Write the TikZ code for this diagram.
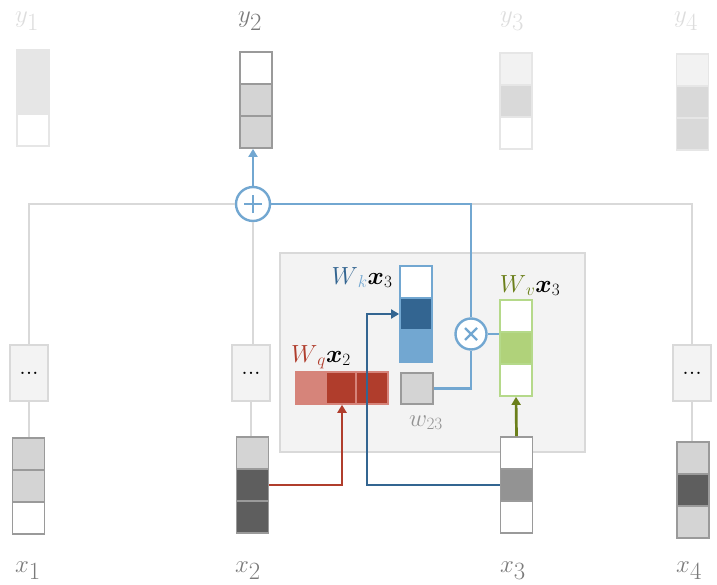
\documentclass[tikz,border=0pt]{standalone}
\usepackage{amsmath}
\usetikzlibrary{arrows.meta}
\definecolor{lgline}{HTML}{D9D9D9}
\definecolor{bgray}{HTML}{9A9A9A}
\definecolor{cgray}{HTML}{D4D4D4}
\definecolor{cdark}{HTML}{5E5E5E}
\definecolor{cmid}{HTML}{939393}
\definecolor{faint}{HTML}{E6E6E6}
\definecolor{vfaint}{HTML}{F2F2F2}
\definecolor{ygray}{HTML}{D9D9D9}
\definecolor{lblue}{HTML}{72A7D1}
\definecolor{dblue}{HTML}{336591}
\definecolor{dred}{HTML}{B03D2C}
\definecolor{lred}{HTML}{D6847A}
\definecolor{lgreen}{HTML}{B0D27A}
\definecolor{bgreen}{HTML}{B5D98A}
\definecolor{olive}{HTML}{6B7F1A}
\definecolor{panel}{HTML}{F3F3F3}
\definecolor{labgray}{HTML}{7A7A7A}
\definecolor{labfaint}{HTML}{DDDDDD}
\newcommand\vecbx[7]{%
  \node[cellbox,draw=#4,fill=#5] (#1a) at (#2,#3+16) {};
  \node[cellbox,draw=#4,fill=#6] (#1b) at (#2,#3+48) {};
  \node[cellbox,draw=#4,fill=#7] (#1c) at (#2,#3+80) {};
  \node[vecframe,draw=#4] (#1) at (#2,#3+48) {};
}
\begin{document}
\begin{tikzpicture}[x=1bp,y=-1bp,
  cellbox/.style={rectangle,minimum width=32bp,minimum height=32bp,inner sep=0pt,line width=1.8bp},
  vecframe/.style={rectangle,minimum width=32bp,minimum height=96bp,inner sep=0pt,line width=1.8bp},
  dotsbox/.style={rectangle,draw=lgline,fill=panel,line width=2bp,minimum width=38bp,minimum height=56bp,inner sep=0pt,font=\fontsize{16}{16}\selectfont\bfseries},
  gline/.style={draw=lgline,line width=2.7bp},
  bline/.style={draw=lblue,line width=2.7bp},
  tip/.style={-{Triangle[length=8bp,width=9bp]}},
  biglab/.style={anchor=base west,inner sep=0pt,font=\fontsize{40}{40}\selectfont},
  ylab/.style={anchor=base west,inner sep=0pt,font=\fontsize{36}{36}\selectfont},
  midlab/.style={anchor=base,inner sep=0pt,font=\fontsize{23}{23}\selectfont},
  opcirc/.style={circle,draw=lblue,fill=white,line width=2.4bp,inner sep=0pt}
]
\useasboundingbox (0,0) rectangle (717,585);

% central panel
\node[rectangle,draw=lgline,fill=panel,line width=2bp,minimum width=305bp,minimum height=199bp,inner sep=0pt] (panel) at (432.5,352.5) {};

% dots boxes
\node[dotsbox] (d1) at (29,373) {.\kern1.5bp.\kern1.5bp.};
\node[dotsbox] (d2) at (251,373) {.\kern1.5bp.\kern1.5bp.};
\node[dotsbox] (d4) at (692,373) {.\kern1.5bp.\kern1.5bp.};

% operators
\node[opcirc,minimum size=34bp] (plus) at (253,204) {};
\node[opcirc,minimum size=31bp] (times) at (471,334) {};

% gray connectors
\draw[gline] (d1.north) |- (plus.west);
\draw[gline] (plus.east) -| (d4.north);
\draw[gline] (plus.south) -- (plus.south |- d2.north);

% output vectors
\vecbx{ya}{33}{50}{faint}{faint}{faint}{white}
\vecbx{yb}{256}{52}{bgray}{white}{cgray}{cgray}
\vecbx{yc}{516}{53}{faint}{vfaint}{ygray}{white}
\vecbx{yd}{692.5}{54}{faint}{vfaint}{ygray}{ygray}

% input vectors
\vecbx{xa}{28.5}{438}{bgray}{cgray}{cgray}{white}
\vecbx{xb}{252.5}{437}{bgray}{cgray}{cdark}{cdark}
\vecbx{xc}{516.5}{437}{bgray}{white}{cmid}{white}
\vecbx{xd}{693}{442}{bgray}{cgray}{cdark}{cgray}

\draw[gline] (d1.south) -- (d1.south |- xa.north);
\draw[gline] (d2.south) -- (d2.south |- xb.north);
\draw[gline] (d4.south) -- (d4.south |- xd.north);

% key, value, query
\vecbx{wk}{416}{266}{lblue}{white}{dblue}{lblue}
\vecbx{wv}{516}{300}{bgreen}{white}{lgreen}{white}
\node[cellbox,draw=lred,fill=lred,line width=1.5bp] (qa) at (312,388) {};
\node[cellbox,draw=lred,fill=dred,line width=1.5bp] (qb) at (342,388) {};
\node[cellbox,draw=lred,fill=dred,line width=1.5bp] (qc) at (372,388) {};
\node[cellbox,draw=bgray,fill=cgray,minimum height=31bp] (w23) at (417,388.5) {};

% blue connectors
\draw[bline] (plus.east) -| (times.north);
\draw[bline] (w23.east) -| (times.south);
\draw[bline] (times.east) -- (times.east -| wv.west);
\draw[bline,tip] (plus.north) -- (plus.north |- yb.south);

% operator glyphs
\draw[draw=lblue,line width=2.4bp] ([xshift=-9bp]plus.center) -- ([xshift=9bp]plus.center)
  ([yshift=-9bp]plus.center) -- ([yshift=9bp]plus.center);
\draw[draw=lblue,line width=2.4bp] ([shift={(-6,-6)}]times.center) -- ([shift={(6,6)}]times.center)
  ([shift={(-6,6)}]times.center) -- ([shift={(6,-6)}]times.center);

% coloured arrows
\draw[draw=dred,line width=2.7bp,tip] (xbb.east) -| (qb.south);
\coordinate (kturn) at (367,485);
\draw[draw=dblue,line width=2.7bp,tip] (xcb.west) -- (kturn) |- (wkb.west);
\draw[draw=olive,line width=2.7bp,tip] (xc.north) -- (wv.south);

% labels
\node[ylab,text=labfaint] (ly1) at (15,23) {$y_1$};
\node[ylab,text=labgray] (ly2) at (238,23) {$y_2$};
\node[ylab,text=labfaint] (ly3) at (500,23) {$y_3$};
\node[ylab,text=labfaint] (ly4) at (674,23) {$y_4$};
\node[biglab,text=labgray] (lx1) at (15,572) {$x_1$};
\node[biglab,text=labgray] (lx2) at (235,572) {$x_2$};
\node[biglab,text=labgray] (lx3) at (500,572) {$x_3$};
\node[biglab,text=labgray] (lx4) at (676,572) {$x_4$};

\node[midlab] (lk) at (362,284) {$\textcolor{dblue}{W}_{\textcolor{lblue}{k}}\boldsymbol{x}_3$};
\node[midlab] (lq) at (321,362) {$\textcolor{dred}{W}_{\textcolor{dred}{q}}\boldsymbol{x}_2$};
\node[midlab] (lv) at (530,292) {$\textcolor{olive}{W}_{\textcolor{olive}{v}}\boldsymbol{x}_3$};
\node[midlab,text=cmid,font=\fontsize{26}{26}\selectfont] (lw) at (426,426) {$w_{23}$};
\end{tikzpicture}
\end{document}
